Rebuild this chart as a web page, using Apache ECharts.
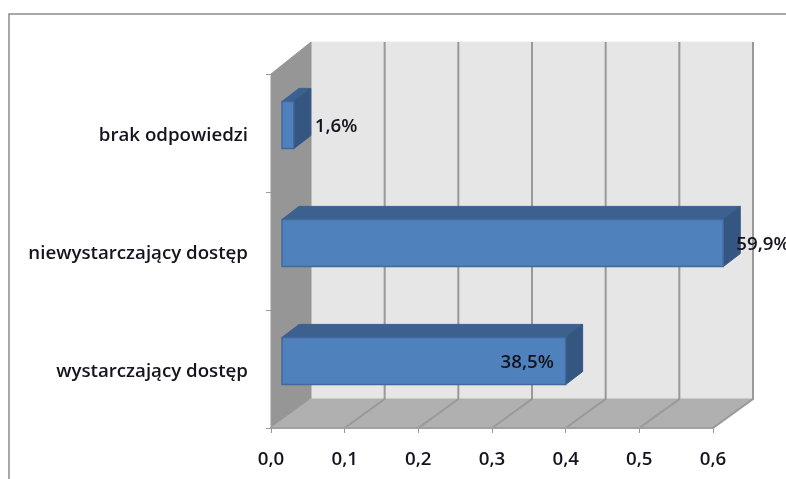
<!DOCTYPE html>
<html>
<head>
<meta charset="utf-8">
<style>
  html, body { margin: 0; padding: 0; background: #fff; }
  #chart { width: 786px; height: 479px; }
</style>
<script src="https://cdn.jsdelivr.net/npm/echarts@6/dist/echarts.min.js"></script>
</head>
<body>
<div id="chart"></div>
<script>
const categories = ["wystarczający dostęp", "niewystarczający dostęp", "brak odpowiedzi"];
const values = [0.385, 0.599, 0.016];
const valueLabels = ["38,5%", "59,9%", "1,6%"];
const xTicks = [0, 0.1, 0.2, 0.3, 0.4, 0.5, 0.6];

// label position relative to the end of the bar front, px
const labelShift = [-65, 13, 21];

const fontName = "'Open Sans', sans-serif";
const fontSize = 18.7;
const textColor = "#14141e";
const wallDepthX = 40;
const wallRiseTop = -32;
const wallRiseBottom = -29;
const barInset = [11, -8];
const barDepth = [17, -13];

function poly(points, fill, stroke) {
  return {
    type: "polygon",
    shape: { points: points },
    style: { fill: fill, stroke: stroke || fill, lineWidth: 1 },
  };
}

// side wall, floor and back wall of the 3d box
function renderWalls(params) {
  const r = params.coordSys;
  const dx = wallDepthX;
  const left = r.x, right = r.x + r.width, top = r.y, bottom = r.y + r.height;
  const backTop = top + wallRiseTop, backBottom = bottom + wallRiseBottom;
  return {
    type: "group",
    children: [
      poly([[left + dx, backTop], [right + dx, backTop], [right + dx, backBottom], [left + dx, backBottom]], "#e6e6e6"),
      poly([[left, top], [left + dx, backTop], [left + dx, backBottom], [left, bottom]], "#969696"),
      poly([[left, bottom], [left + dx, backBottom], [right + dx, backBottom], [right, bottom]], "#b0b0b0"),
    ],
  };
}

// one grid line per tick, running over the floor and up the back wall
function renderGridLine(params, api) {
  const r = params.coordSys;
  const dx = wallDepthX;
  const p = api.coord([api.value(0), 0]);
  const bottom = r.y + r.height;
  return {
    type: "polyline",
    shape: { points: [[p[0], bottom], [p[0] + dx, bottom + wallRiseBottom], [p[0] + dx, r.y + wallRiseTop]] },
    style: { fill: "none", stroke: "#999999", lineWidth: 2 },
  };
}

function renderBar(params, api) {
  const end = api.coord([api.value(0), api.value(1)]);
  const start = api.coord([0, api.value(1)]);
  const h = api.size([0, 1])[1] * 0.4;
  const x0 = start[0] + barInset[0];
  const x1 = end[0] + barInset[0];
  const cy = end[1] + barInset[1];
  const y0 = cy - h / 2;
  const y1 = cy + h / 2;
  const [dx, dy] = barDepth;
  return {
    type: "group",
    children: [
      poly([[x0, y0], [x0 + dx, y0 + dy], [x1 + dx, y0 + dy], [x1, y0]], "#3c618e"),
      poly([[x1, y0], [x1 + dx, y0 + dy], [x1 + dx, y1 + dy], [x1, y1]], "#345680"),
      {
        type: "rect",
        shape: { x: x0, y: y0, width: x1 - x0, height: y1 - y0 },
        style: { fill: "#4f81bd", stroke: "#41699b", lineWidth: 1.5 },
      },
      {
        type: "text",
        x: x1 + labelShift[params.dataIndex],
        y: cy + 2,
        style: {
          text: valueLabels[params.dataIndex],
          fill: textColor,
          font: "600 " + fontSize + "px " + fontName,
          align: "left",
          verticalAlign: "middle",
        },
      },
    ],
  };
}

const chart = echarts.init(document.getElementById("chart"), null, { renderer: "canvas" });
chart.setOption({
  animation: false,
  backgroundColor: "#ffffff",
  grid: { left: 271, right: 73, top: 74, bottom: 51 },
  xAxis: {
    type: "value",
    min: 0,
    max: 0.6,
    interval: 0.1,
    z: 5,
    splitLine: { show: false },
    axisLine: { show: true, lineStyle: { color: "#a0a0a0", width: 2 } },
    axisTick: { show: true, length: 5, lineStyle: { color: "#999999", width: 1 } },
    axisLabel: {
      margin: 22,
      color: textColor,
      fontFamily: fontName,
      fontWeight: 600,
      fontSize: fontSize,
      formatter: (v) => v.toFixed(1).replace(".", ","),
    },
  },
  yAxis: {
    type: "category",
    data: categories,
    z: 5,
    axisLine: { show: true, lineStyle: { color: "#999999", width: 1 } },
    axisTick: { show: true, length: 5, lineStyle: { color: "#999999", width: 1 } },
    axisLabel: {
      margin: 23,
      color: textColor,
      fontFamily: fontName,
      fontWeight: 600,
      fontSize: fontSize,
      verticalAlign: "top",
      lineHeight: 6,
    },
  },
  graphic: [
    {
      type: "polyline",
      silent: true,
      shape: { points: [[9, 479], [9, 14], [786, 14]] },
      style: { fill: "none", stroke: "#8c8c8c", lineWidth: 1.5 },
    },
  ],
  series: [
    { type: "custom", z: 1, renderItem: renderWalls, data: [0], silent: true },
    {
      type: "custom",
      z: 2,
      renderItem: renderGridLine,
      encode: { x: 0 },
      data: xTicks.slice(1).map((t) => [t]),
      silent: true,
    },
    {
      type: "custom",
      z: 3,
      renderItem: renderBar,
      encode: { x: 0, y: 1 },
      data: values.map((v, i) => [v, i]),
    },
  ],
});
</script>
</body>
</html>
